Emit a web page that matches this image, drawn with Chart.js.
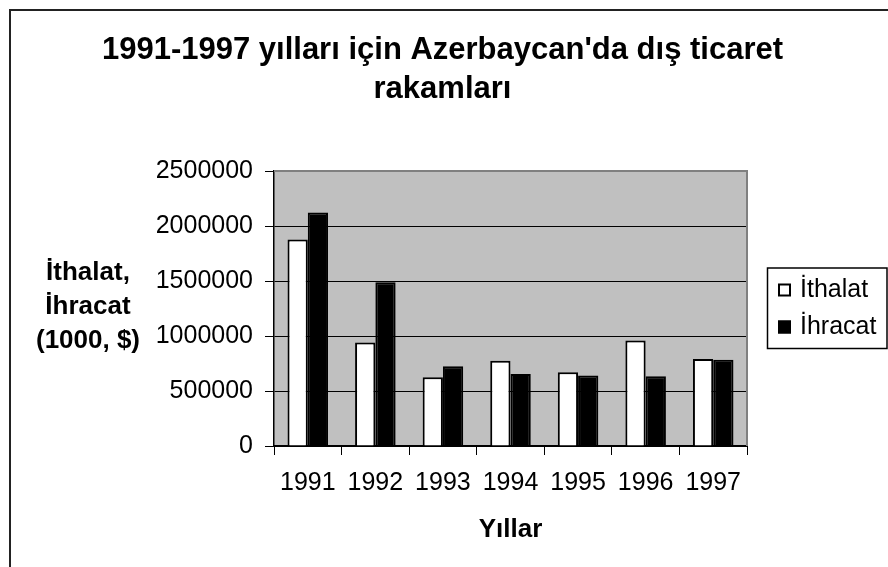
<!DOCTYPE html>
<html lang="tr">
<head>
<meta charset="utf-8">
<title>1991-1997 Azerbaycan dış ticaret</title>
<script src="https://cdn.jsdelivr.net/npm/chart.js@4.4.1/dist/chart.umd.min.js"></script>
<style>
  html, body { margin: 0; padding: 0; background: #fff; overflow: hidden; }
  #wrap { position: relative; width: 888px; height: 567px; }
</style>
</head>
<body>
<div id="wrap"><canvas id="chart"></canvas></div>
<script>
/* values (1000 $) */
const years   = ["1991", "1992", "1993", "1994", "1995", "1996", "1997"];
const ithalat = [1877000, 940000, 625000, 776000, 670000, 958000, 791000];
const ihracat = [2122000, 1488000, 724000, 655000, 640000, 634000, 785000];
const yTicks  = [0, 500000, 1000000, 1500000, 2000000, 2500000];
const titleLines  = ["1991-1997 yılları için Azerbaycan'da dış ticaret", "rakamları"];
const yTitleLines = ["İthalat,", "İhracat", "(1000, $)"];
const xTitle = "Yıllar";

const FONT = "'Liberation Sans', Arial, Helvetica, sans-serif";
Chart.defaults.font.family = FONT;
Chart.defaults.color = "#000";

/* excel-ish chrome: outer frame, grey plot area, horizontal y title, boxed legend */
const excelLook = {
  id: "excelLook",
  beforeDraw(chart) {
    const { ctx, chartArea: a } = chart;
    ctx.save();
    ctx.fillStyle = "#fff";
    ctx.fillRect(0, 0, chart.width, chart.height);
    ctx.strokeStyle = "#222";
    ctx.lineWidth = 2;
    ctx.beginPath();
    ctx.moveTo(10, chart.height); ctx.lineTo(10, 10); ctx.lineTo(chart.width, 10);
    ctx.stroke();
    ctx.fillStyle = "#c0c0c0";
    ctx.fillRect(a.left, a.top, a.right - a.left, a.bottom - a.top);
    ctx.restore();
  },
  beforeDatasetsDraw(chart) {
    const { ctx, chartArea: a } = chart;
    ctx.save();
    ctx.strokeStyle = "#808080";
    ctx.lineWidth = 2;
    ctx.beginPath();
    ctx.moveTo(a.left, a.top); ctx.lineTo(a.right, a.top); ctx.lineTo(a.right, a.bottom);
    ctx.stroke();
    ctx.restore();
  },
  afterDraw(chart) {
    const { ctx, chartArea: a } = chart;
    const midY = (a.top + a.bottom) / 2;
    ctx.save();
    ctx.fillStyle = "#000";
    ctx.textBaseline = "middle";

    // y axis title, written horizontally like the original
    ctx.font = "bold 26px " + FONT;
    ctx.textAlign = "center";
    yTitleLines.forEach((t, i) => ctx.fillText(t, 88, midY - 36 + i * 34));

    // legend
    const lx = a.right + 20, ly = midY - 41;
    ctx.strokeStyle = "#000";
    ctx.lineWidth = 1.5;
    ctx.strokeRect(lx + 0.5, ly + 0.5, 119.5, 80.5);
    ctx.font = "25px " + FONT;
    ctx.textAlign = "left";
    chart.data.datasets.forEach((ds, i) => {
      const cy = ly + 22 + i * 37;
      ctx.fillStyle = ds.backgroundColor;
      ctx.fillRect(lx + 11, cy - 6, 13, 13);
      ctx.lineWidth = 2;
      ctx.strokeStyle = ds.borderColor;
      ctx.strokeRect(lx + 12, cy - 5, 11, 11);
      ctx.fillStyle = "#000";
      ctx.fillText(ds.label, lx + 33, cy + 1);
    });
    ctx.restore();
  },
};

new Chart(document.getElementById("chart"), {
  type: "bar",
  data: {
    labels: years,
    datasets: [
      { label: "İthalat", data: ithalat, backgroundColor: "#fff", borderColor: "#000", borderWidth: 2 },
      { label: "İhracat", data: ihracat, backgroundColor: "#000", borderColor: "#000", borderWidth: 2 },
    ],
  },
  options: {
    responsive: true, maintainAspectRatio: false, animation: false,
    datasets: { bar: { categoryPercentage: 0.6, barPercentage: 1.0 } },
    layout: { padding: { left: 0, right: 3, top: 0, bottom: 0 } },
    plugins: {
      legend: { display: false },
      tooltip: { enabled: false },
      title: {
        display: true, text: titleLines, color: "#000",
        font: { size: 31, weight: "bold", lineHeight: 1.25 }, padding: { top: 31, bottom: 62.5 },
      },
    },
    scales: {
      x: {
        grid: { drawOnChartArea: false, offset: true, tickLength: 9, tickColor: "#000" },
        border: { color: "#000", width: 2 },
        ticks: { font: { size: 25 }, color: "#000", padding: 13, maxRotation: 0, autoSkip: false },
        title: { display: true, text: xTitle, color: "#000", font: { size: 26, weight: "bold" }, padding: { top: 0, bottom: 22 } },
        afterFit: s => { s.height = 121; },
      },
      y: {
        min: 0, max: 2500000,
        afterBuildTicks: s => { s.ticks = yTicks.map(v => ({ value: v })); },
        grid: { color: "#000", lineWidth: 1, tickLength: 9, tickColor: "#000" },
        border: { color: "#000", width: 1.5 },
        ticks: { font: { size: 25 }, color: "#000", padding: 12, callback: v => String(v) },
        afterFit: s => { s.width = 274; },
      },
      // empty right-hand box that keeps room for the legend without moving the title
      legendSpace: {
        type: "linear", position: "right",
        grid: { display: false, drawTicks: false }, border: { display: false },
        ticks: { display: false },
        afterFit: s => { s.width = 138; },
      },
    },
  },
  plugins: [excelLook],
});
</script>
</body>
</html>
